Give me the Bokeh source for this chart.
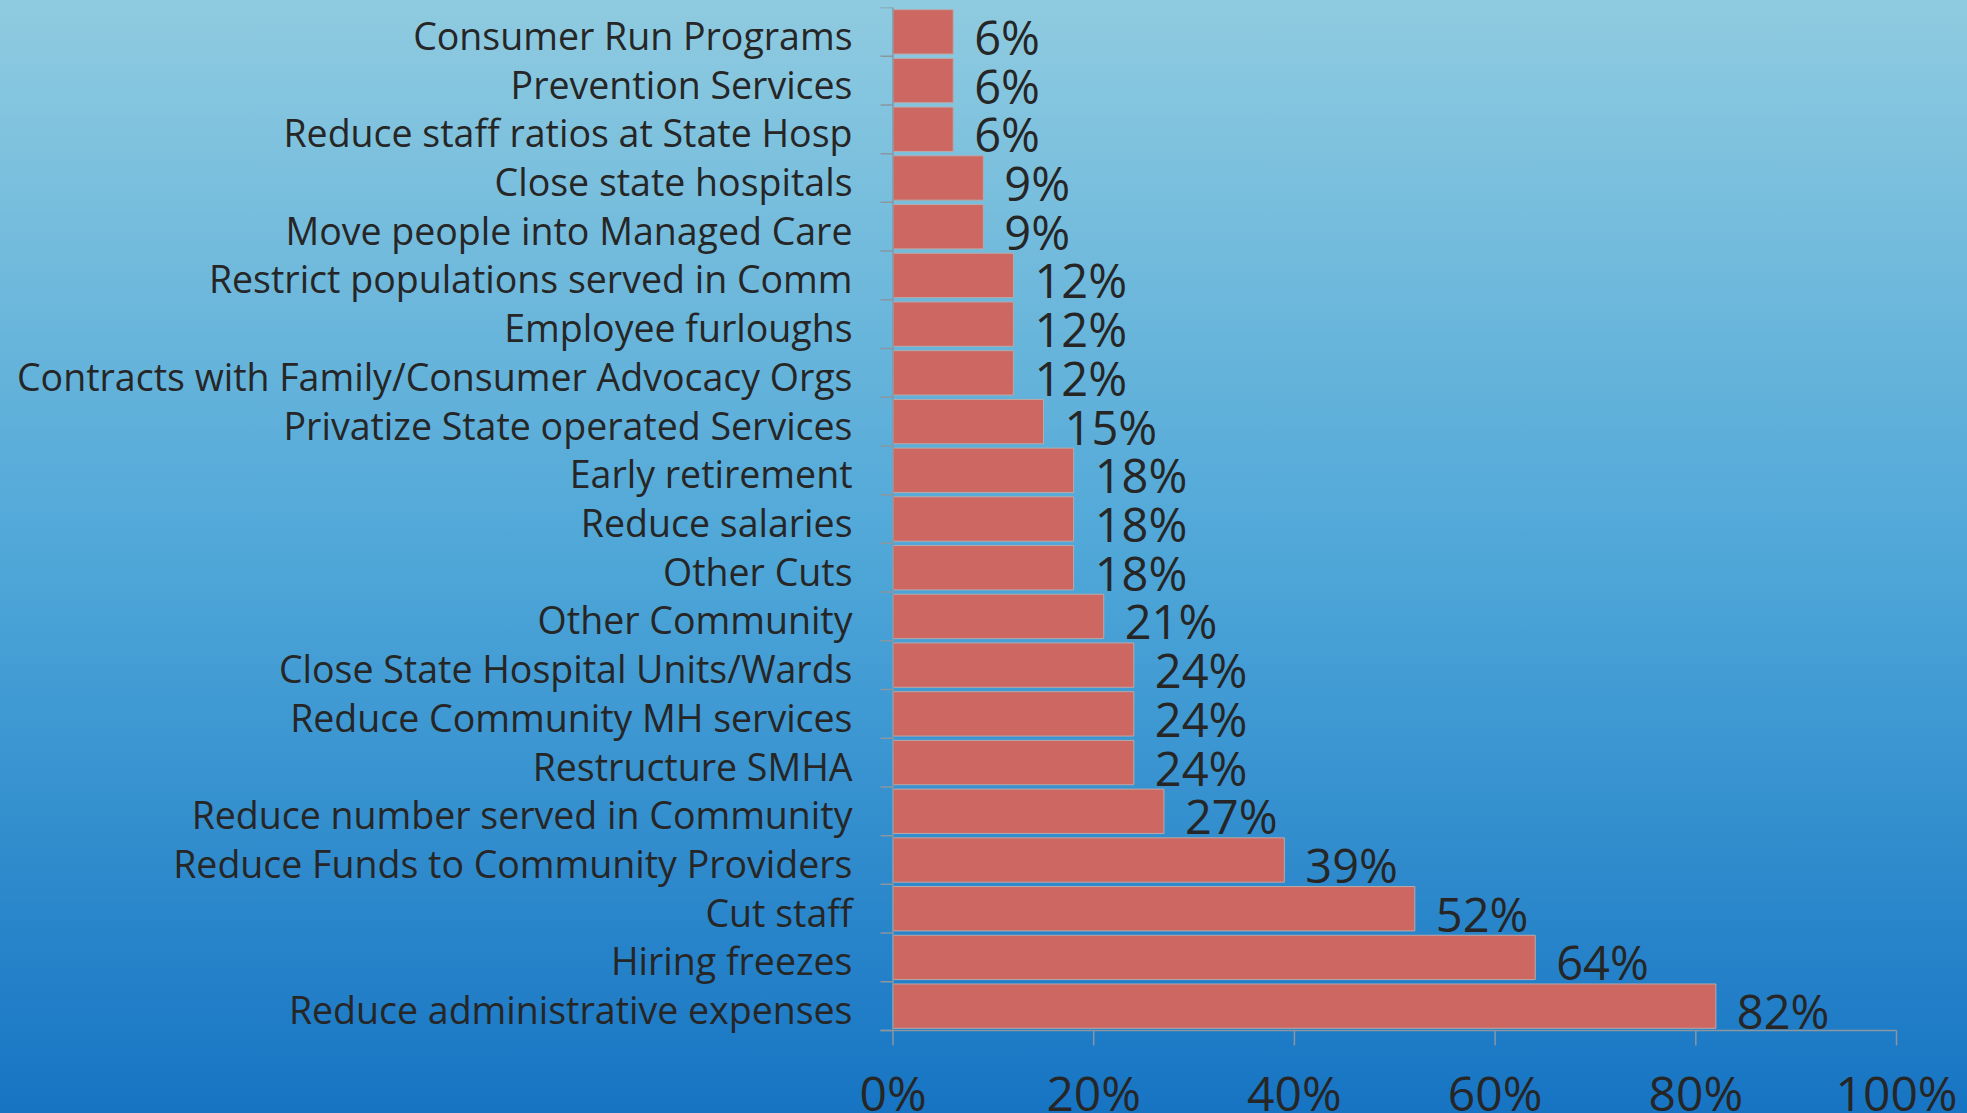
from bokeh.plotting import figure
from bokeh.models import Range1d, FixedTicker, ColumnDataSource
from bokeh.core.properties import value
from bokeh.embed import file_html
from bokeh.resources import INLINE

categories = [
    "Reduce administrative expenses",
    "Hiring freezes",
    "Cut staff",
    "Reduce Funds to Community Providers",
    "Reduce number served in Community",
    "Restructure SMHA",
    "Reduce Community MH services",
    "Close State Hospital Units/Wards",
    "Other Community",
    "Other Cuts",
    "Reduce salaries",
    "Early retirement",
    "Privatize State operated Services",
    "Contracts with Family/Consumer Advocacy Orgs",
    "Employee furloughs",
    "Restrict populations served in Comm",
    "Move people into Managed Care",
    "Close state hospitals",
    "Reduce staff ratios at State Hosp",
    "Prevention Services",
    "Consumer Run Programs",
]
values = [82, 64, 52, 39, 27, 24, 24, 24, 21, 18, 18, 18, 15, 12, 12, 12, 9, 9, 6, 6, 6]
x_ticks = [0, 20, 40, 60, 80, 100]
x_tick_labels = ["0%", "20%", "40%", "60%", "80%", "100%"]

n = len(categories)
ypos = [i + 0.5 for i in range(n)]
src = ColumnDataSource(dict(y=ypos, v=values, lab=[f"{v}%" for v in values]))

FONT = "Open Sans"
TXT = "#262626"
AX = "#8a96a0"

# layout in pixels
W, H = 1967, 1113
FRAME_LEFT, FRAME_TOP = 855, 7
TICK_LEFT_PX = 880
X0_PX, X100_PX = 892.5, 1896.0
Y_AXIS_PX = 1030.0
px_per_x = (X100_PX - X0_PX) / 100.0
px_per_y = (Y_AXIS_PX - FRAME_TOP) / n
x_start = -(X0_PX - FRAME_LEFT) / px_per_x
x_tick_left = -(X0_PX - TICK_LEFT_PX) / px_per_x
x_end = x_start + (W - FRAME_LEFT) / px_per_x
y_start = -(H - Y_AXIS_PX) / px_per_y
tick_len = 15 / px_per_y
label_shift = 3.5 / px_per_y

p = figure(width=W, height=H, output_backend="svg", toolbar_location=None,
           x_range=Range1d(x_start, x_end), y_range=Range1d(y_start, n),
           min_border_left=FRAME_LEFT, min_border_right=0, min_border_top=FRAME_TOP,
           min_border_bottom=0)
p.background_fill_color = None
p.border_fill_color = None
p.outline_line_color = None
p.styles = {"background": "linear-gradient(to bottom, #8fcbe0 0%, #4fa7d8 50%, #1674c3 100%)"}
p.xgrid.visible = False
p.ygrid.visible = False
p.xaxis.visible = False

p.hbar(y="y", right="v", left=0, height=0.91, source=src,
       fill_color="#cd6762", line_color="#b9a9a9", line_width=1)

p.text(x="v", y="y", text="lab", source=src, x_offset=21, y_offset=5,
       text_font=value(FONT), text_font_size="47px", text_color=TXT,
       text_baseline="middle", text_align="left")

# left axis line and category boundary ticks
bounds = list(range(n + 1))
p.segment(x0=[0], y0=[0], x1=[0], y1=[n], line_color=AX, line_width=1.5)
p.segment(x0=[x_tick_left] * len(bounds), y0=bounds, x1=[0] * len(bounds), y1=bounds,
          line_color=AX, line_width=1.5)

# bottom value axis: line, ticks, labels
p.segment(x0=[x_tick_left], y0=[0], x1=[x_ticks[-1]], y1=[0], line_color=AX, line_width=1.5)
p.segment(x0=x_ticks, y0=[0] * len(x_ticks), x1=x_ticks, y1=[-tick_len] * len(x_ticks),
          line_color=AX, line_width=1.5)
p.text(x=x_ticks, y=[0] * len(x_ticks), text=x_tick_labels, y_offset=62,
       text_font=value(FONT), text_font_size="48px", text_color=TXT,
       text_baseline="middle", text_align="center")

label_pos = [y - label_shift for y in ypos]
yax = p.yaxis[0]
yax.ticker = FixedTicker(ticks=label_pos)
yax.major_label_overrides = {y: c for y, c in zip(label_pos, categories)}
yax.axis_line_color = None
yax.major_tick_line_color = None
yax.minor_tick_line_color = None
yax.major_tick_out = 0
yax.major_label_standoff = 3
yax.major_label_text_font = FONT
yax.major_label_text_font_size = "37.5px"
yax.major_label_text_color = TXT

open("out.html", "w").write(file_html(p, INLINE))
